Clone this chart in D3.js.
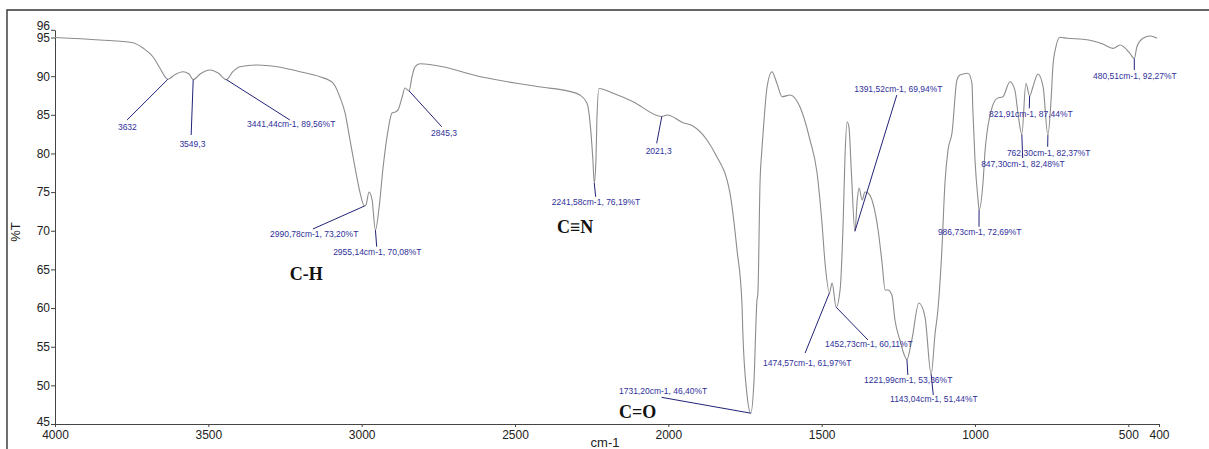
<!DOCTYPE html>
<html>
<head>
<meta charset="utf-8">
<script src="https://cdn.jsdelivr.net/npm/d3@7"></script>
<style>
  body { margin: 0; background: #fff; }
  svg { display: block; }
</style>
</head>
<body>
<div id="spectrum"></div>
<script>
// IR spectrum: wavenumber (cm-1) and transmittance (%T)
const wavenumber = [4000, 3853, 3746, 3713, 3680, 3658, 3632, 3609, 3583, 3563, 3549.3, 3527, 3495, 3468, 3441.44,
  3420, 3397, 3341, 3276, 3201, 3136, 3093, 3071, 3054, 3038, 3022, 3005, 2990.78, 2986, 2976, 2966, 2955.14,
  2943, 2930, 2914, 2901, 2891, 2882, 2868, 2859, 2845.3, 2836, 2826, 2810, 2767, 2604, 2409, 2330, 2288, 2265,
  2255, 2246, 2241.58, 2236, 2233, 2226, 2180, 2115, 2021.3, 2004, 1952, 1920, 1874, 1848, 1799, 1776, 1760,
  1757, 1744, 1731.2, 1721, 1711, 1708, 1701, 1695, 1691, 1678, 1662, 1646, 1629, 1603, 1571, 1538, 1515, 1499,
  1489, 1474.57, 1466, 1452.73, 1440, 1430, 1424, 1417, 1411, 1403, 1391.52, 1384, 1378, 1368, 1359, 1349, 1333,
  1316, 1303, 1293, 1284, 1271, 1261, 1245, 1221.99, 1206, 1183, 1163, 1143.04, 1130, 1121, 1108, 1098, 1088,
  1075, 1059, 1049, 1023, 1010, 1007, 1000, 990, 986.73, 974, 967, 961, 944, 928, 909, 886, 870, 860, 847.3,
  834, 821.91, 811, 795, 778, 762.3, 752, 746, 736, 723, 700, 648, 615, 583, 550, 527, 495, 480.51, 472, 452,
  429, 406];
const transmittance = [95.0, 94.68, 94.33, 93.64, 92.48, 91.05, 89.6, 90.2, 90.58, 90.28, 89.55, 90.28, 90.8, 90.4, 89.56,
  90.58, 91.22, 91.44, 91.22, 90.58, 89.93, 89.11, 87.3, 85.23, 81.74, 78.25, 74.88, 73.2, 73.33, 75.01, 73.98, 70.08,
  73.07, 78.25, 83.0, 85.23, 85.36, 85.6, 87.3, 88.47, 88.1, 89.9, 91.2, 91.6, 91.44, 89.85, 88.56, 88.1, 87.56, 86.5,
  83.9, 79.15, 76.19, 79.15, 84.3, 88.4, 87.78, 86.7, 84.78, 84.97, 83.98, 83.55, 81.74, 80.02, 74.88, 67.5, 60.65,
  56.8, 49.0, 46.4, 50.3, 61.0, 61.9, 76.2, 80.45, 82.65, 88.6, 90.58, 89.08, 87.34, 87.56, 86.05, 81.74, 77.47, 71.0,
  65.83, 61.97, 63.24, 60.11, 62.33, 71.0, 79.54, 84.07, 83.42, 77.47, 69.94, 73.98, 75.53, 73.98, 75.01, 74.88, 73.59,
  70.1, 65.83, 62.34, 62.34, 61.69, 58.45, 55.87, 53.36, 55.87, 60.65, 58.84, 51.44, 56.77, 59.75, 67.5, 76.18, 80.45,
  82.65, 89.5, 90.15, 90.37, 89.11, 85.62, 79.15, 73.98, 72.69, 76.18, 80.45, 82.65, 86.0, 87.13, 87.34, 89.28, 88.2, 85.23, 82.48,
  89.08, 87.44, 88.64, 90.28, 88.64, 82.37, 86.9, 91.22, 93.81, 95.03, 94.9, 94.77, 94.55, 94.16, 93.6, 94.03, 92.96, 92.27, 93.81, 94.9,
  95.2, 94.9];

// labelled peaks
const peakWn = [3632, 3549.3, 3441.44, 2990.78, 2955.14, 2845.3, 2241.58, 2021.3, 1731.20, 1474.57, 1452.73,
  1391.52, 1221.99, 1143.04, 986.73, 847.30, 821.91, 762.30, 480.51];
const peakT = [89.6, 89.55, 89.56, 73.20, 70.08, 88.1, 76.19, 84.78, 46.40, 61.97, 60.11,
  69.94, 53.36, 51.44, 72.69, 82.48, 87.44, 82.37, 92.27];
const peakText = ["3632", "3549,3", "3441,44cm-1, 89,56%T", "2990,78cm-1, 73,20%T", "2955,14cm-1, 70,08%T", "2845,3",
  "2241,58cm-1, 76,19%T", "2021,3", "1731,20cm-1, 46,40%T", "1474,57cm-1, 61,97%T", "1452,73cm-1, 60,11%T",
  "1391,52cm-1, 69,94%T", "1221,99cm-1, 53,36%T", "1143,04cm-1, 51,44%T", "986,73cm-1, 72,69%T",
  "847,30cm-1, 82,48%T", "821,91cm-1, 87,44%T", "762,30cm-1, 82,37%T", "480,51cm-1, 92,27%T"];

// group labels
const groupText = ["C-H", "C\u2261N", "C=O"];

const xTicks = [4000, 3500, 3000, 2500, 2000, 1500, 1000, 500, 400];
const yTicks = [45, 50, 55, 60, 65, 70, 75, 80, 85, 90, 95, 96];

// where each callout leader ends and where its text sits (in data units)
const leaderEnd = [[3765, 84.33], [3556, 82.39], [3234, 84.33], [3159, 70.23], [2951, 67.94], [2739, 83.46],
  [2237, 74.4], [2038, 81.31], [2022, 48.45], [1554, 54.18], [1349, 55.87], [1255, 87.56], [1219, 51.34],
  [1136, 48.75], [987, 70.52], [844.5, 79.41], [823, 85.84], [763, 80.87], [480.5, 90.8]];
const textAt = [[3764, 83.46, "middle"], [3552, 81.22, "middle"], [3374, 83.81, "start"], [3299, 69.58, "start"],
  [3093, 67.29, "start"], [2774, 82.68, "start"], [2380, 73.68, "start"], [2074, 80.36, "start"],
  [2161, 49.27, "start"], [1691, 52.85, "start"], [1489, 55.31, "start"], [1394, 88.3, "start"],
  [1362, 50.69, "start"], [1277, 48.2, "start"], [1121, 69.88, "start"], [980, 78.64, "start"],
  [954, 85.1, "start"], [896, 80.02, "start"], [615, 90.02, "start"]];
const groupAt = [[3181, 64.5], [2304, 70.5], [2100, 46.6]];

const W = 1209, H = 449;
const svg = d3.select("#spectrum").append("svg")
  .attr("width", W)
  .attr("height", H);

// frame (top and left edges only)
svg.append("path")
  .attr("d", "M7,449 L7,10 L1209,10")
  .attr("fill", "none")
  .attr("stroke", "#333")
  .attr("stroke-width", 1.4);

const x = d3.scaleLinear().domain([4000, 400]).range([55, 1159]);
const y = d3.scaleLinear().domain([45, 96]).range([424, 29.8]);

const xAxis = svg.append("g")
  .attr("transform", "translate(0,424)")
  .call(d3.axisBottom(x).tickValues(xTicks).tickSize(3).tickSizeOuter(0).tickPadding(3).tickFormat(d3.format("d")));

const yAxis = svg.append("g")
  .attr("transform", "translate(55,0)")
  .call(d3.axisLeft(y).tickValues(yTicks).tickSize(4).tickSizeOuter(0).tickPadding(1));

[xAxis, yAxis].forEach(a => {
  a.selectAll("path, line").attr("stroke", "#444");
  a.selectAll("text")
    .attr("fill", "#222")
    .style("font-family", "'Liberation Sans', Arial, sans-serif")
    .style("font-size", "12px");
});
// 96 and 45 labels are pushed a little off their ticks
yAxis.selectAll(".tick").filter(d => d === 96).select("text").attr("dy", "0.0em");
yAxis.selectAll(".tick").filter(d => d === 45).select("text").attr("dy", "0.15em");

// axis titles
svg.append("text")
  .attr("transform", "translate(20,232) rotate(-90)")
  .attr("text-anchor", "middle")
  .style("font-family", "'Liberation Sans', Arial, sans-serif")
  .style("font-size", "13px")
  .attr("fill", "#222")
  .text("%T");

svg.append("text")
  .attr("x", 605)
  .attr("y", 446.5)
  .attr("text-anchor", "middle")
  .style("font-family", "'Liberation Sans', Arial, sans-serif")
  .style("font-size", "13px")
  .attr("fill", "#222")
  .text("cm-1");

// spectrum
const pts = wavenumber.map((w, i) => [w, transmittance[i]]);
const line = d3.line()
  .x(d => x(d[0]))
  .y(d => y(d[1]))
  .curve(d3.curveMonotoneX);

svg.append("path")
  .datum(pts)
  .attr("d", line)
  .attr("fill", "none")
  .attr("stroke", "#8c8c8c")
  .attr("stroke-width", 1.1);

// callouts
const callouts = svg.append("g");
peakWn.forEach((w, i) => {
  callouts.append("line")
    .attr("x1", x(w))
    .attr("y1", y(peakT[i]))
    .attr("x2", x(leaderEnd[i][0]))
    .attr("y2", y(leaderEnd[i][1]))
    .attr("stroke", "#22227a")
    .attr("stroke-width", 1);
  callouts.append("text")
    .attr("x", x(textAt[i][0]))
    .attr("y", y(textAt[i][1]))
    .attr("dy", "0.35em")
    .attr("text-anchor", textAt[i][2])
    .attr("fill", "#30309a")
    .style("font-family", "'Liberation Sans', Arial, sans-serif")
    .style("font-size", "8.5px")
    .text(peakText[i]);
});

// group labels
groupText.forEach((t, i) => {
  svg.append("text")
    .attr("x", x(groupAt[i][0]))
    .attr("y", y(groupAt[i][1]))
    .attr("dy", "0.35em")
    .attr("text-anchor", "middle")
    .attr("fill", "#111")
    .style("font-family", "'Liberation Serif', 'Times New Roman', serif")
    .style("font-weight", "bold")
    .style("font-size", "18px")
    .text(t);
});
</script>
</body>
</html>
